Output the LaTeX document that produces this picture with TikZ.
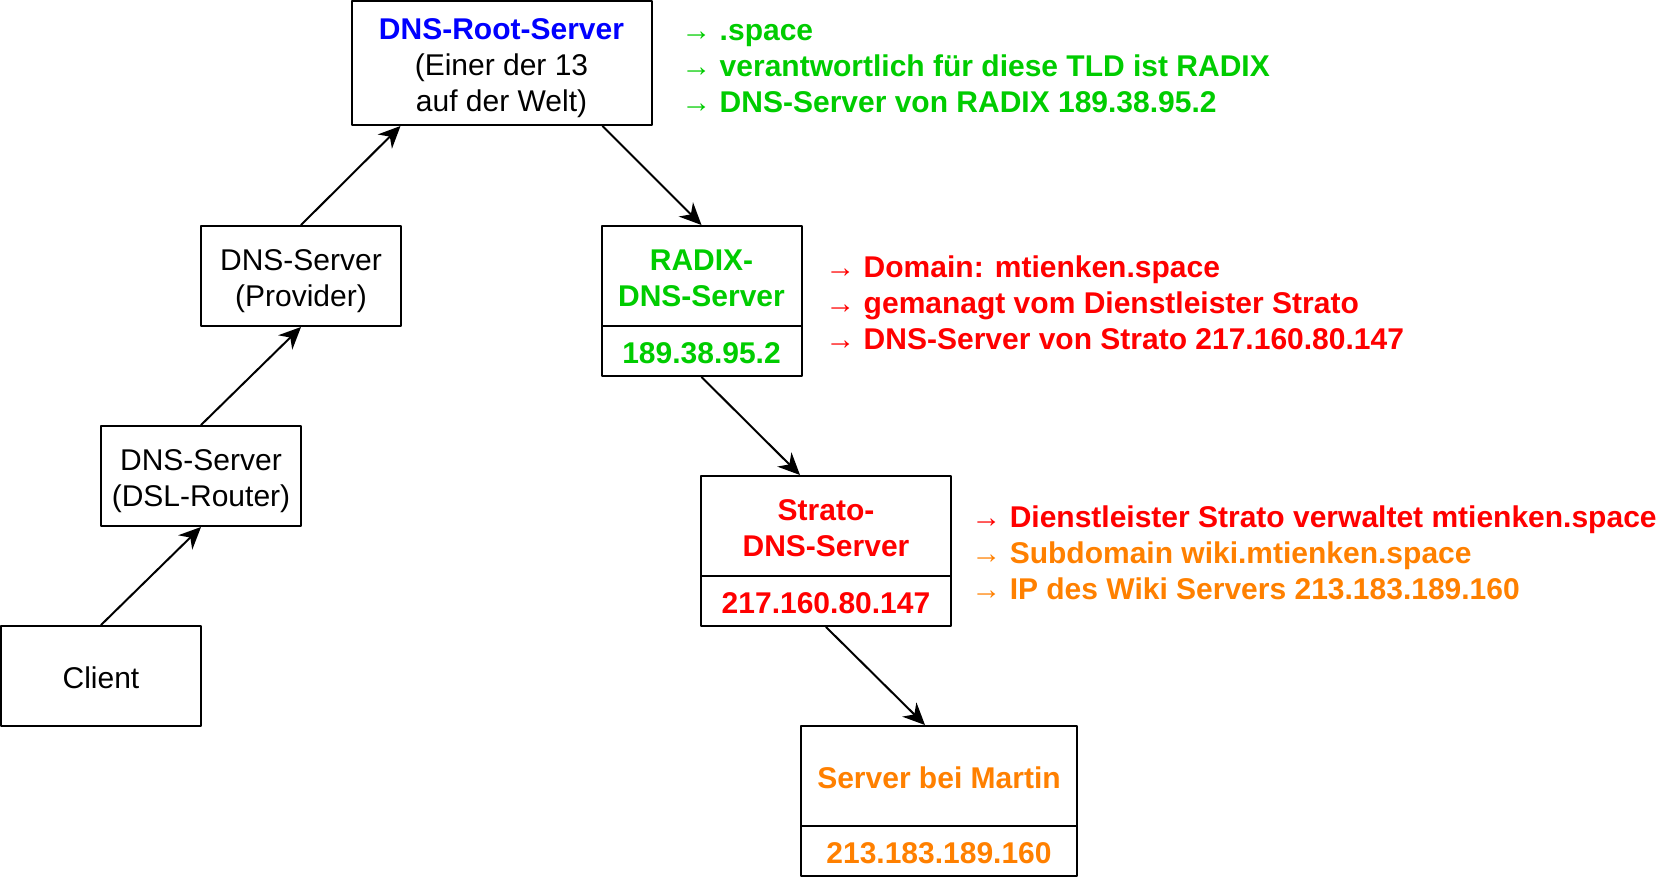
\documentclass[tikz,border=0pt]{standalone}
\usepackage{fontspec}
\setmainfont{Liberation Sans}
\usetikzlibrary{arrows.meta}
\definecolor{dnsBlue}{RGB}{0,0,255}
\definecolor{dnsGreen}{RGB}{0,204,0}
\definecolor{dnsRed}{RGB}{255,0,0}
\definecolor{dnsOrange}{RGB}{255,128,0}
\newcommand{\dnssize}{\fontsize{15pt}{18pt}\selectfont}
\newcommand{\dnsto}{{\mdseries →}}
\begin{document}
\begin{tikzpicture}
% DNS lookup chain, coordinates in pixels of the 1680x880 sheet
\providecommand{\dnsBoxLineWidth}{1pt}
\providecommand{\dnsArrowLineWidth}{1pt}
\tikzset{
  dnsbox/.style={draw=black, line width=\dnsBoxLineWidth, fill=white, inner sep=0pt,
    align=center, minimum width=100pt, minimum height=50pt, font=\dnssize,
    text height=15.3pt, text depth=2.7pt},
  twolines/.style={text height=33.3pt},
  threelines/.style={text height=51.3pt},
  dnsip/.style={dnsbox, minimum height=25pt, font=\dnssize\bfseries},
  dnsnote/.style={anchor=west, inner sep=0pt, align=left, font=\dnssize\bfseries,
    text height=51.3pt, text depth=2.7pt},
  dnsarrow/.style={draw=black, line width=\dnsArrowLineWidth,
    -{Stealth[length=11pt, width=10pt, inset=3.5pt]}},
}
\begin{scope}[x=0.5pt, y=-0.5pt, line cap=round, line join=round]
  \useasboundingbox (0,0) rectangle (1680,880);
  % Resolver side
  \node[dnsbox] (client) at (101,676) {Client};
  \node[dnsbox, twolines] (router) at (201,476) {DNS-Server\\(DSL-Router)};
  \node[dnsbox, twolines] (provider) at (301,276) {DNS-Server\\(Provider)};
  \node[dnsbox, threelines, minimum width=150pt, minimum height=62pt] (root) at (501.5,63)
    {\textcolor{dnsBlue}{\bfseries DNS-Root-Server}\\(Einer der 13\\auf der Welt)};
  % Authoritative side
  \node[dnsbox, twolines, text=dnsGreen, font=\dnssize\bfseries] (radix) at (701.5,276) {RADIX-\\DNS-Server};
  \node[dnsip, text=dnsGreen] (radixip) at (701.5,351) {189.38.95.2};
  \node[dnsbox, twolines, minimum width=125pt, text=dnsRed, font=\dnssize\bfseries] (strato) at (826,526) {Strato-\\DNS-Server};
  \node[dnsip, minimum width=125pt, text=dnsRed] (stratoip) at (826,601) {217.160.80.147};
  \node[dnsbox, minimum width=138pt, text=dnsOrange, font=\dnssize\bfseries] (martin) at (939,776) {Server bei Martin};
  \node[dnsip, minimum width=138pt, text=dnsOrange] (martinip) at (939,851) {213.183.189.160};
  % Notes
  \node[dnsnote, text=dnsGreen] (rootnote) at (681,64)
    {\dnsto{} .space\\\dnsto{} verantwortlich für diese TLD ist RADIX\\\dnsto{} DNS-Server von RADIX 189.38.95.2};
  \node[dnsnote, text=dnsRed] (radixnote) at (825,301)
    {\dnsto{} Domain: mtienken.space\\\dnsto{} gemanagt vom Dienstleister Strato\\\dnsto{} DNS-Server von Strato 217.160.80.147};
  \node[dnsnote] (stratonote) at (971,551)
    {\textcolor{dnsRed}{\dnsto{} Dienstleister Strato verwaltet mtienken.space}\\
     \textcolor{dnsOrange}{\dnsto{} Subdomain wiki.mtienken.space}\\
     \textcolor{dnsOrange}{\dnsto{} IP des Wiki Servers 213.183.189.160}};
  % Connectors
  \draw[dnsarrow] (client.north) -- (router.south);
  \draw[dnsarrow] (router.north) -- (provider.south);
  \draw[dnsarrow] (provider.north) -- ([xshift=25pt]root.south west);
  \draw[dnsarrow] ([xshift=-25pt]root.south east) -- (radix.north);
  \draw[dnsarrow] (radixip.south) -- ([xshift=50pt]strato.north west);
  \draw[dnsarrow] (stratoip.south) -- ([xshift=62.5pt]martin.north west);
\end{scope}
\end{tikzpicture}
\end{document}
